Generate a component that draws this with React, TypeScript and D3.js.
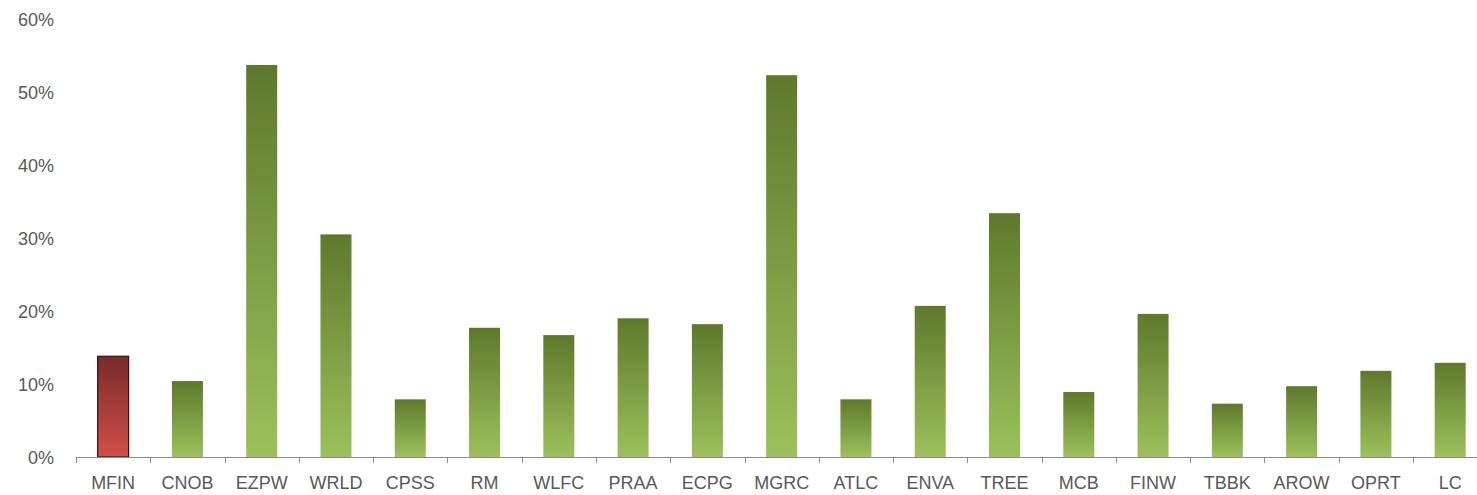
import React, {useEffect, useRef} from "react";
import * as d3 from "d3";

const categories = [
	"MFIN", "CNOB", "EZPW", "WRLD", "CPSS", "RM", "WLFC", "PRAA", "ECPG", "MGRC",
	"ATLC", "ENVA", "TREE", "MCB", "FINW", "TBBK", "AROW", "OPRT", "LC",
];
const values = [
	13.8, 10.4, 53.7, 30.5, 7.9, 17.7, 16.7, 19.0, 18.2, 52.3,
	7.9, 20.7, 33.4, 8.9, 19.6, 7.3, 9.7, 11.8, 12.9,
];
const highlighted = ["MFIN"];
const yTicks = [0, 10, 20, 30, 40, 50, 60];

const W = 1477;
const H = 495;

const App: React.FC = () => {
	const svgRef = useRef<SVGSVGElement>(null);

	useEffect(() => {
		document.body.style.margin = "0";
		const svg = d3.select(svgRef.current);
		svg.selectAll("*").remove();

		const font = "'Liberation Sans', Arial, sans-serif";
		const x0 = 76;
		const step = 74.28;
		const x = d3
			.scaleBand<string>()
			.domain(categories)
			.range([x0, x0 + step * categories.length])
			.padding(0);
		const barW = 31;
		const y = d3.scaleLinear().domain([0, 60]).range([457, 19]);

		const defs = svg.append("defs");
		const green = defs
			.append("linearGradient")
			.attr("id", "gGreen")
			.attr("x1", 0).attr("y1", 0).attr("x2", 0).attr("y2", 1);
		green.append("stop").attr("offset", "0%").attr("stop-color", "#5e792c");
		green.append("stop").attr("offset", "100%").attr("stop-color", "#9cc15b");
		const red = defs
			.append("linearGradient")
			.attr("id", "gRed")
			.attr("x1", 0).attr("y1", 0).attr("x2", 0).attr("y2", 1);
		red.append("stop").attr("offset", "0%").attr("stop-color", "#782a2a");
		red.append("stop").attr("offset", "100%").attr("stop-color", "#d24f48");

		// Y labels
		svg
			.append("g")
			.selectAll("text")
			.data(yTicks)
			.enter()
			.append("text")
			.attr("x", 54)
			.attr("y", (d) => y(d) + 1)
			.attr("text-anchor", "end")
			.attr("dominant-baseline", "central")
			.style("font-family", font)
			.style("font-size", "18px")
			.style("fill", "#595959")
			.text((d) => `${d}%`);

		// Bars
		const data = categories.map((c, i) => ({c, v: values[i]}));
		svg
			.append("g")
			.selectAll("rect")
			.data(data)
			.enter()
			.append("rect")
			.attr("x", (d) => (x(d.c) as number) + (x.bandwidth() - barW) / 2)
			.attr("y", (d) => y(d.v))
			.attr("width", barW)
			.attr("height", (d) => y(0) - y(d.v))
			.attr("fill", (d) => (highlighted.includes(d.c) ? "url(#gRed)" : "url(#gGreen)"))
			.attr("stroke", (d) => (highlighted.includes(d.c) ? "#2e1414" : "none"))
			.attr("stroke-width", 1.2);

		// X axis
		const axis = svg.append("g");
		axis
			.append("line")
			.attr("x1", x0)
			.attr("x2", W)
			.attr("y1", y(0) + 0.5)
			.attr("y2", y(0) + 0.5)
			.attr("stroke", "#8c8c8c")
			.attr("stroke-width", 1.2);
		axis
			.selectAll(".tick")
			.data(categories)
			.enter()
			.append("line")
			.attr("class", "tick")
			.attr("x1", (d) => Math.round(x(d) as number) + 0.5)
			.attr("x2", (d) => Math.round(x(d) as number) + 0.5)
			.attr("y1", y(0))
			.attr("y2", y(0) + 6)
			.attr("stroke", "#8c8c8c");
		axis
			.selectAll(".lbl")
			.data(categories)
			.enter()
			.append("text")
			.attr("class", "lbl")
			.attr("x", (d) => (x(d) as number) + x.bandwidth() / 2)
			.attr("y", 489)
			.attr("text-anchor", "middle")
			.style("font-family", font)
			.style("font-size", "18px")
			.style("fill", "#595959")
			.text((d) => d);
	}, []);

	return <svg ref={svgRef} width={W} height={H} style={{display: "block"}} />;
};

export default App;
